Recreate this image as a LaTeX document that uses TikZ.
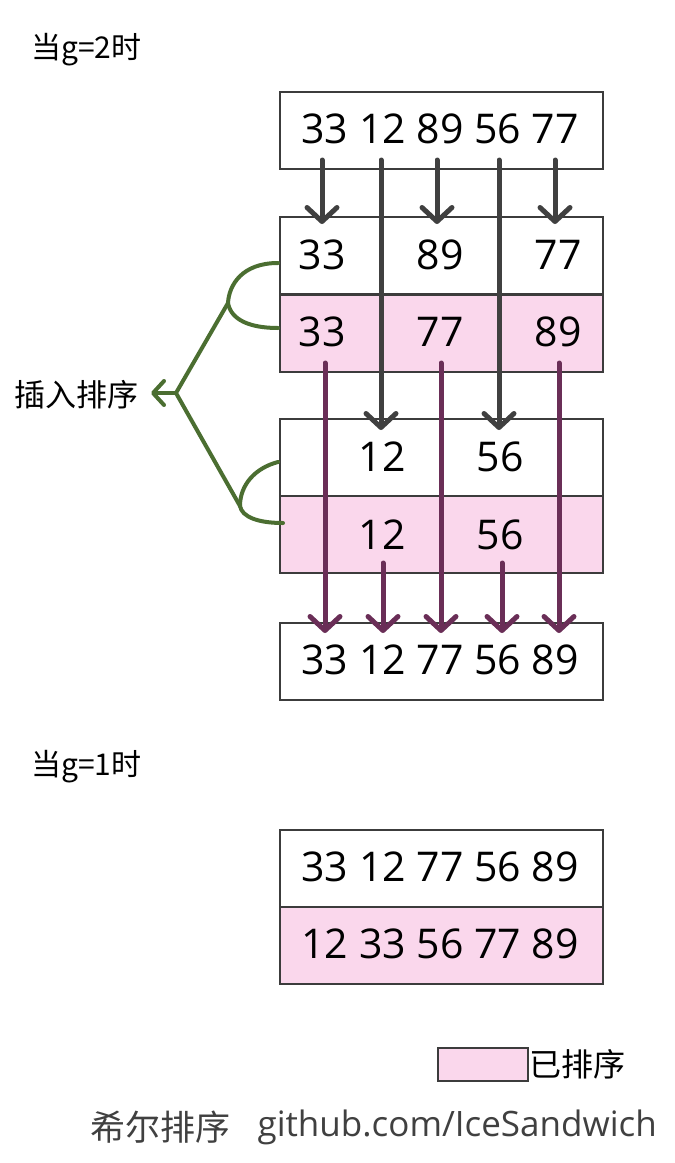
\documentclass[tikz,border=0pt]{standalone}
\usepackage{fontspec}
\setmainfont{Open Sans}
\newfontfamily\cjk{Noto Sans CJK SC}
\usetikzlibrary{arrows.meta}
\definecolor{pinkfill}{HTML}{FAD7EC}
\definecolor{boxline}{HTML}{3C3C3C}
\definecolor{darkarrow}{HTML}{404040}
\definecolor{purplearrow}{HTML}{6A2E57}
\definecolor{greenline}{HTML}{4B6E31}
\definecolor{footgray}{HTML}{404040}
\begin{document}
\begin{tikzpicture}[x=1pt,y=-1pt,
  cell/.style={draw=boxline, line width=2pt, minimum width=323pt, minimum height=77pt, inner sep=0pt, anchor=north west},
  sortedcell/.style={cell, fill=pinkfill},
  num/.style={inner sep=0pt, font=\fontsize{41}{49}\selectfont},
  lbl/.style={inner sep=0pt, font=\cjk\fontsize{30}{34}\selectfont},
  darrow/.style={draw=darkarrow, line width=5pt, line cap=round, -{Straight Barb[length=14pt,width=30pt,round]}},
  parrow/.style={draw=purplearrow, line width=5pt, line cap=round, -{Straight Barb[length=14pt,width=30pt,round]}},
  greenpath/.style={draw=greenline, line width=4pt, line cap=round, line join=round},
]
\useasboundingbox (0,0) rectangle (675,1163);

% labels
\node[lbl, anchor=west] (g2) at (31,50) {当g=2时};
\node[lbl, anchor=west] (g1) at (31,767) {当g=1时};

% top box
\node[cell] (top) at (279,91) {};
\node[num] (topt) at (440,129) {33 12 89 56 77};

% group 1 (33,89,77)
\node[cell] (b2w) at (279,216) {};
\node[sortedcell] (b2p) at (279,294) {};
\node[num] (b2w1) at (322,255) {33};
\node[num] (b2w2) at (440,255) {89};
\node[num] (b2w3) at (558,255) {77};
\node[num] (b2p1) at (322,332) {33};
\node[num] (b2p2) at (440,332) {77};
\node[num] (b2p3) at (558,332) {89};

% group 2 (12,56)
\node[cell] (b3w) at (279,418) {};
\node[sortedcell] (b3p) at (279,495) {};
\node[num] (b3w1) at (382,457) {12};
\node[num] (b3w2) at (500,457) {56};
\node[num] (b3p1) at (382,535) {12};
\node[num] (b3p2) at (500,535) {56};

% result box
\node[cell] (res) at (279,622) {};
\node[num] (rest) at (440,660) {33 12 77 56 89};

% g=1
\node[cell] (f1) at (279,829) {};
\node[sortedcell] (f2) at (279,906) {};
\node[num] (f1t) at (440,867) {33 12 77 56 89};
\node[num] (f2t) at (440,944) {12 33 56 77 89};

% dark arrows
\coordinate (s1) at (322,160); \coordinate (e1) at (322,224);
\coordinate (s2) at (381,160); \coordinate (e2) at (381,430);
\coordinate (s3) at (437,160); \coordinate (e3) at (437,224);
\coordinate (s4) at (499,160); \coordinate (e4) at (499,430);
\coordinate (s5) at (555,160); \coordinate (e5) at (555,224);
\draw[darrow] (s1) -- (e1);
\draw[darrow] (s2) -- (e2);
\draw[darrow] (s3) -- (e3);
\draw[darrow] (s4) -- (e4);
\draw[darrow] (s5) -- (e5);

% purple arrows
\coordinate (p1) at (325,363); \coordinate (q1) at (325,633);
\coordinate (p2) at (383,563); \coordinate (q2) at (383,633);
\coordinate (p3) at (441,363); \coordinate (q3) at (441,633);
\coordinate (p4) at (502,563); \coordinate (q4) at (502,633);
\coordinate (p5) at (559,363); \coordinate (q5) at (559,633);
\draw[parrow] (p1) -- (q1);
\draw[parrow] (p2) -- (q2);
\draw[parrow] (p3) -- (q3);
\draw[parrow] (p4) -- (q4);
\draw[parrow] (p5) -- (q5);

% green brace
\coordinate (ja) at (228,303);
\coordinate (jb) at (240,506);
\coordinate (tip) at (176,393);
\coordinate (tipend) at (151,393);
\coordinate (a1) at (278,263);
\coordinate (a2) at (278,328);
\coordinate (b1) at (278,462);
\coordinate (b2) at (283,523);
\draw[greenpath] (a1) .. controls (242,263) and (229,285) .. (ja);
\draw[greenpath] (ja) .. controls (231,320) and (250,328) .. (a2);
\draw[greenpath] (b1) .. controls (255,468) and (240,485) .. (jb);
\draw[greenpath] (jb) .. controls (242,517) and (258,523) .. (b2);
\draw[greenpath] (ja) -- (tip) -- (jb);
\draw[greenpath, -{Straight Barb[length=11pt,width=24pt,round]}] (tip) -- (tipend);
\node[inner sep=0pt, font=\cjk\fontsize{31}{34}\selectfont, anchor=east] (sortlbl) at (139,395) {插入排序};

% legend
\node[draw=boxline, line width=2pt, fill=pinkfill, minimum width=90pt, minimum height=33pt, inner sep=0pt, anchor=north west] (leg) at (437,1047) {};
\node[inner sep=0pt, font=\cjk\fontsize{32}{34}\selectfont, anchor=west] (legt) at (529,1064) {已排序};

% footer
\node[inner sep=0pt, text=footgray, font=\cjk\fontsize{35}{40}\selectfont, anchor=west] (foot1) at (90,1127) {希尔排序};
\node[inner sep=0pt, text=footgray, font=\fontsize{35}{40}\selectfont, anchor=east] (foot2) at (657,1127) {github.com/IceSandwich};
\end{tikzpicture}
\end{document}
